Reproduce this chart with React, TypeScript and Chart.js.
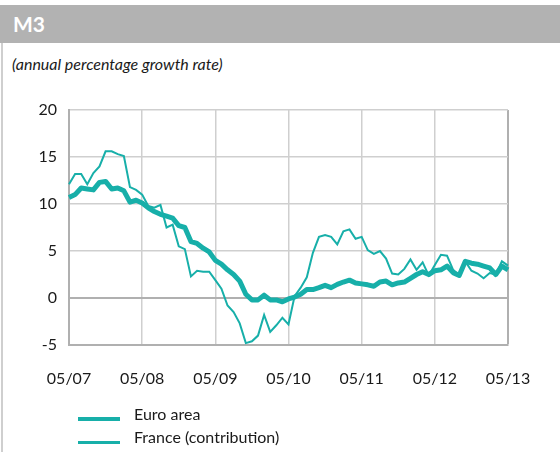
import React, { useEffect, useRef } from "react";
import { Chart, registerables } from "chart.js";

Chart.register(...registerables);

const TITLE = "M3";
const SUBTITLE = "(annual percentage growth rate)";
const START_YEAR = 2007;
const START_MONTH = 5;
const N_MONTHS = 73;
const yTicks = [-5, 0, 5, 10, 15, 20];

const euroArea = [
  10.7, 11.0, 11.7, 11.6, 11.5, 12.3, 12.4, 11.6, 11.7, 11.4, 10.2, 10.4,
  10.1, 9.6, 9.2, 8.9, 8.7, 8.5, 7.7, 7.5, 6.0, 5.8, 5.3, 4.9,
  4.0, 3.6, 3.0, 2.5, 1.8, 0.4, -0.2, -0.2, 0.3, -0.2, -0.2, -0.4,
  -0.1, 0.1, 0.4, 0.9, 0.9, 1.1, 1.35, 1.1, 1.45, 1.7, 1.9, 1.6,
  1.5, 1.4, 1.25, 1.7, 1.8, 1.4, 1.6, 1.7, 2.1, 2.5, 2.8, 2.5,
  2.9, 3.0, 3.4, 2.7, 2.4, 3.9, 3.7, 3.6, 3.4, 3.2, 2.5, 3.4,
  3.0,
];

const france = [
  12.1, 13.2, 13.2, 12.1, 13.3, 14.0, 15.6, 15.6, 15.3, 15.1, 11.8, 11.5,
  11.0, 9.8, 9.6, 9.9, 7.5, 7.8, 5.5, 5.2, 2.3, 2.9, 2.8, 2.8,
  1.9, 1.0, -0.8, -1.5, -2.7, -4.8, -4.6, -4.0, -1.8, -3.6, -2.9, -2.1,
  -2.8, 0.2, 1.1, 2.2, 4.8, 6.5, 6.7, 6.5, 5.7, 7.1, 7.3, 6.3,
  6.5, 5.1, 4.7, 5.0, 4.2, 2.6, 2.5, 3.1, 4.1, 3.0, 3.8, 2.4,
  3.5, 4.6, 4.5, 3.0, 2.4, 3.9, 2.9, 2.6, 2.1, 2.65, 2.5, 3.9,
  3.45,
];

const seriesNames = ["Euro area", "France (contribution)"];

const months: string[] = [];
for (let i = 0; i < N_MONTHS; i++) {
  const m = ((START_MONTH - 1 + i) % 12) + 1;
  const y = START_YEAR + Math.floor((START_MONTH - 1 + i) / 12);
  months.push(String(m).padStart(2, "0") + "/" + String(y % 100).padStart(2, "0"));
}

const TEAL = "#17AFA9";
const FONT = "Lato, 'Open Sans', sans-serif";

export default function App() {
  const ref = useRef<HTMLCanvasElement | null>(null);

  useEffect(() => {
    document.body.style.margin = "0";
    const canvas = ref.current;
    if (!canvas) return;
    const chart = new Chart(canvas, {
      type: "line",
      data: {
        labels: months,
        datasets: [
          {
            label: seriesNames[0],
            data: euroArea,
            borderColor: TEAL,
            borderWidth: 5,
            pointRadius: 0,
            tension: 0,
            borderJoinStyle: "round",
          },
          {
            label: seriesNames[1],
            data: france,
            borderColor: TEAL,
            borderWidth: 2,
            pointRadius: 0,
            tension: 0,
          },
        ],
      },
      options: {
        animation: false,
        responsive: false,
        maintainAspectRatio: false,
        layout: { padding: { left: 0, right: 52, top: 110, bottom: 60 } },
        plugins: { legend: { display: false }, tooltip: { enabled: false } },
        scales: {
          x: {
            type: "category",
            offset: false,
            border: { display: true, color: "#b0b0b0", width: 2 },
            grid: {
              drawTicks: false,
              color: (ctx: any) =>
                ctx.index === N_MONTHS - 1
                  ? "#b0b0b0"
                  : ctx.index % 12 === 0
                  ? "#cfcfcf"
                  : "rgba(0,0,0,0)",
              lineWidth: (ctx: any) => (ctx.index === N_MONTHS - 1 ? 2 : 1.5),
            },
            ticks: {
              autoSkip: false,
              maxRotation: 0,
              padding: 24,
              color: "#1a1a1a",
              font: { family: FONT, size: 16 },
              callback: (_v: any, i: number) => (i % 12 === 0 ? months[i] : ""),
            },
            afterFit: (scale: any) => {
              scale.height = 47;
            },
          },
          y: {
            min: -5,
            max: 20,
            border: { display: true, color: "#b0b0b0", width: 2 },
            grid: {
              drawTicks: false,
              color: (ctx: any) => (ctx.tick && ctx.tick.value === 0 ? "#b0b0b0" : "#cfcfcf"),
              lineWidth: (ctx: any) => (ctx.tick && ctx.tick.value === 0 ? 2 : 1.5),
            },
            afterBuildTicks: (scale: any) => {
              scale.ticks = yTicks.map((v) => ({ value: v }));
            },
            ticks: {
              padding: 12,
              color: "#1a1a1a",
              font: { family: FONT, size: 16 },
            },
            afterFit: (scale: any) => {
              scale.width = 69;
            },
          },
        },
      },
    });
    return () => chart.destroy();
  }, []);

  return (
    <div style={{ position: "relative", width: 560, height: 452, background: "#fff", overflow: "hidden" }}>
      <div
        style={{
          position: "absolute",
          left: 0,
          top: 5,
          width: 560,
          height: 38,
          background: "#b2b2b2",
          color: "#fff",
          fontFamily: FONT,
          fontWeight: 700,
          fontSize: 21,
          lineHeight: "38px",
          paddingLeft: 13,
          boxSizing: "border-box",
        }}
      >
        {TITLE}
      </div>
      <div style={{ position: "absolute", left: 1, top: 43, width: 1.5, height: 409, background: "#cfcfcf" }} />
      <div
        style={{
          position: "absolute",
          left: 12,
          top: 54,
          fontFamily: FONT,
          fontStyle: "italic",
          fontSize: 16,
          color: "#1a1a1a",
          whiteSpace: "nowrap",
        }}
      >
        {SUBTITLE}
      </div>
      <canvas ref={ref} width={560} height={452} style={{ position: "absolute", left: 0, top: 0 }} />
      <div style={{ position: "absolute", left: 78, top: 417, width: 42, height: 4, background: TEAL }} />
      <div style={{ position: "absolute", left: 78, top: 441, width: 42, height: 2.5, background: TEAL }} />
      <div
        style={{
          position: "absolute",
          left: 134,
          top: 404,
          fontFamily: FONT,
          fontSize: 16,
          color: "#1a1a1a",
          whiteSpace: "nowrap",
        }}
      >
        {seriesNames[0]}
      </div>
      <div
        style={{
          position: "absolute",
          left: 134,
          top: 427,
          fontFamily: FONT,
          fontSize: 16,
          color: "#1a1a1a",
          whiteSpace: "nowrap",
        }}
      >
        {seriesNames[1]}
      </div>
    </div>
  );
}
